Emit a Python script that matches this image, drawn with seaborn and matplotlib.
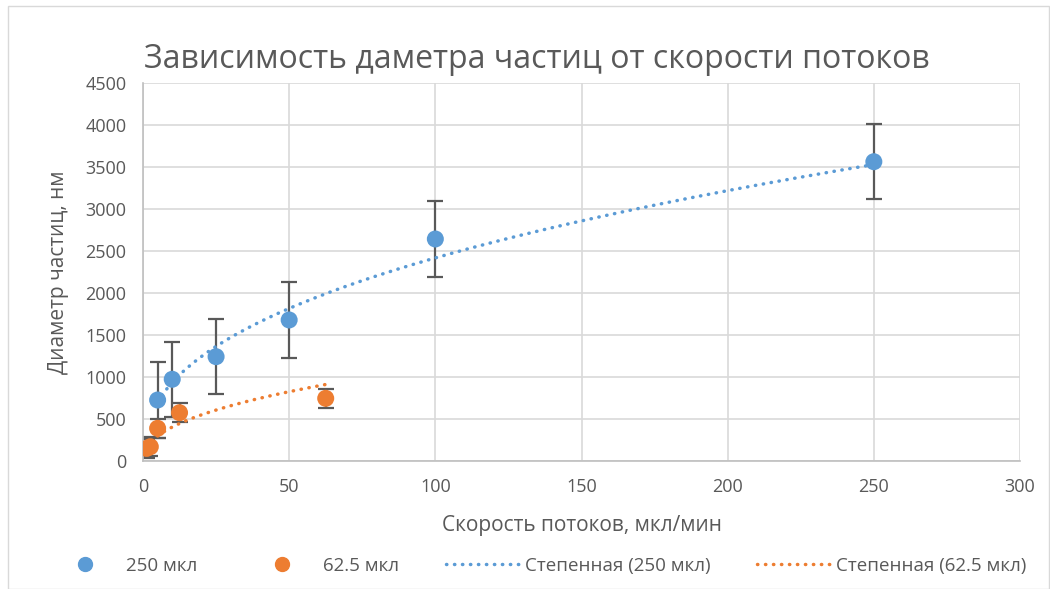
import numpy as np
import pandas as pd
import matplotlib
matplotlib.use("Agg")
import matplotlib.pyplot as plt
from matplotlib.lines import Line2D
import seaborn as sns

# Flow rate (µl/min) vs particle diameter (nm)
flow_250 = [5, 10, 25, 50, 100, 250]
diam_250 = [726, 973, 1242, 1679, 2643, 3563]
err_250 = [447, 447, 447, 447, 447, 447]

flow_62 = [1.25, 2.5, 5, 12.5, 62.5]
diam_62 = [150, 170, 389, 575, 746]
err_62 = [113, 113, 113, 113, 113]

label_250 = "250 мкл"
label_62 = "62.5 мкл"
trend_250 = "Степенная (250 мкл)"
trend_62 = "Степенная (62.5 мкл)"

title = "Зависимость даметра частиц от скорости потоков"
xlabel = "Скорость потоков, мкл/мин"
ylabel = "Диаметр частиц, нм"

xticks = [0, 50, 100, 150, 200, 250, 300]
yticks = [0, 500, 1000, 1500, 2000, 2500, 3000, 3500, 4000, 4500]

BLUE = "#5B9BD5"
ORANGE = "#ED7D31"
TEXT = "#595959"
GRID = "#D9D9D9"

sns.set_theme(style="white")
plt.rcParams["font.family"] = ["Open Sans", "DejaVu Sans"]

fig = plt.figure(figsize=(10.5, 5.89), dpi=100)
ax = fig.add_axes([143 / 1050, 1 - 461 / 589, (1020 - 143) / 1050, (461 - 83) / 589])


def power_fit(x, y):
    b, ln_a = np.polyfit(np.log(x), np.log(y), 1)
    xs = np.linspace(min(x), max(x), 200)
    return xs, np.exp(ln_a) * xs ** b


df = pd.concat([
    pd.DataFrame({"x": flow_250, "y": diam_250, "s": label_250}),
    pd.DataFrame({"x": flow_62, "y": diam_62, "s": label_62}),
])

# Error bars first, so markers sit on top
ax.errorbar(flow_250, diam_250, yerr=err_250, fmt="none", ecolor="#595959",
            elinewidth=1.6, capsize=6, capthick=1.6, zorder=2)
ax.errorbar(flow_62, diam_62, yerr=err_62, fmt="none", ecolor="#595959",
            elinewidth=1.6, capsize=6, capthick=1.6, zorder=2)

# Power-law trendlines
tx1, ty1 = power_fit(flow_250, diam_250)
tx2, ty2 = power_fit(flow_62, diam_62)
dots = (0, (0.1, 2.2))
sns.lineplot(x=tx1, y=ty1, ax=ax, color=BLUE, lw=2.5, linestyle=dots,
             dash_capstyle="round", label=trend_250, zorder=3, legend=False)
sns.lineplot(x=tx2, y=ty2, ax=ax, color=ORANGE, lw=2.5, linestyle=dots,
             dash_capstyle="round", label=trend_62, zorder=3, legend=False)

sns.scatterplot(data=df, x="x", y="y", hue="s", palette=[BLUE, ORANGE],
                s=150, edgecolor="none", ax=ax, zorder=4, legend=False)

ax.set_xlim(0, 300)
ax.set_ylim(0, 4500)
ax.set_xticks(xticks)
ax.set_yticks(yticks)
ax.tick_params(axis="both", colors=TEXT, labelsize=13, length=0, pad=12)
ax.grid(True, color=GRID, lw=1.2)
ax.set_axisbelow(True)
for side in ["top", "right"]:
    ax.spines[side].set_visible(False)
for side in ["left", "bottom"]:
    ax.spines[side].set_color("#BFBFBF")
    ax.spines[side].set_linewidth(1.2)

ax.set_xlabel(xlabel, color=TEXT, fontsize=15, labelpad=14)
ax.set_ylabel(ylabel, color=TEXT, fontsize=15, labelpad=12)
fig.text(537 / 1050, 1 - 60 / 589, title, color=TEXT, fontsize=23,
         ha="center", va="center")

# Legend below the plot
handles = [
    Line2D([], [], marker="o", ls="none", color=BLUE, markersize=10),
    Line2D([], [], marker="o", ls="none", color=ORANGE, markersize=10),
    Line2D([], [], color=BLUE, lw=2.5, linestyle=dots, dash_capstyle="round"),
    Line2D([], [], color=ORANGE, lw=2.5, linestyle=dots, dash_capstyle="round"),
]
fig.legend(handles, [label_250, label_62, trend_250, trend_62],
           loc="center", bbox_to_anchor=(537 / 1050, 1 - 566 / 589), ncol=4,
           frameon=False, fontsize=13.5, labelcolor=TEXT, handlelength=4.0,
           columnspacing=2.5, handletextpad=0.2)

# Light chart border
fig.patches.append(plt.Rectangle((8 / 1050, 0), 1 - 9 / 1050, 1 - 6 / 589,
                                 transform=fig.transFigure, fill=False,
                                 edgecolor=GRID, lw=1))

fig.savefig("out.png", dpi=100)
